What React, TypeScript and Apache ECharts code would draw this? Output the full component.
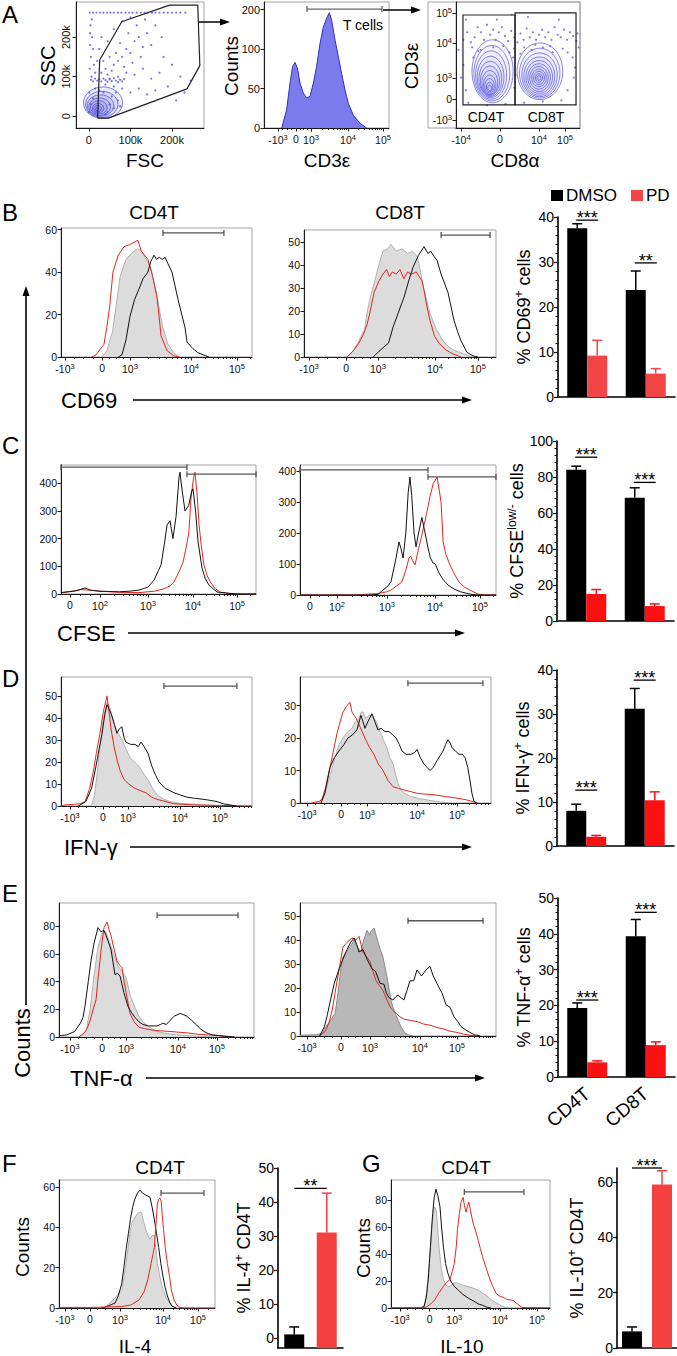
import React, { useEffect, useRef } from "react";
import * as echarts from "echarts";

const FONT = '"Liberation Sans", Arial, Helvetica, sans-serif';
const AX = "#1a1a1a";

// ---------- tick definitions (channel units 0-1000 on logicle display axes) ----------
const logLabels = ["-10{s|3}", "0", "10{s|3}", "10{s|4}", "10{s|5}"];
const cfseLabels = ["0", "10{s|2}", "10{s|3}", "10{s|4}", "10{s|5}"];
const a2Ticks = [112, 256, 376, 672, 952];
const b4Ticks = [21, 215, 361, 681, 921];
const b8Ticks = [26, 219, 385, 682, 906];
const c4Ticks = [46, 200, 446, 677, 903];
const c8Ticks = [51, 189, 444, 689, 918];
const d4Ticks = [47, 220, 351, 623, 832];
const d8Ticks = [37, 215, 351, 613, 822];
const e4Ticks = [56, 221, 344, 610, 810];
const e8Ticks = [36, 209, 357, 612, 801];
const fTicks = [38, 199, 391, 667, 891];
const gTicks = [57, 243, 398, 686, 918];
const a3xTicks = [40, 355, 669, 879];
const a3xLabels = ["-10{s|4}", "0", "10{s|4}", "10{s|5}"];
const a3yTicks = [63, 230, 397, 675, 913];

// ---------- Panel A ----------
const a1Gate = [[21, -5], [26, 142], [79, 239], [194, 281], [262, 281], [267, 128], [236, 69], [47, -5], [21, -5]];
const a1Rings = [[34, 34, 47, 40], [31, 30, 39, 33], [28, 27, 32, 27], [26, 24, 26, 22], [24, 22, 20, 17], [22, 20, 14, 12], [21, 19, 9, 8], [20, 18, 4, 4]];
const a1Points = [
  [2, 262], [10, 262], [18, 262], [27, 262], [35, 262], [44, 262], [52, 262], [60, 262], [70, 262], [78, 262], [88, 262], [97, 262], [105, 262], [115, 262], [125, 262], [134, 262], [142, 262], [152, 262], [160, 262], [170, 262], [180, 262], [190, 262], [200, 262], [210, 262], [220, 262], [232, 262],
  [2, 120], [5, 150], [3, 180], [8, 200], [4, 230], [10, 170], [6, 100], [12, 130], [1, 60], [7, 245], [3, 210],
  [30, 110], [40, 120], [45, 105], [55, 115], [60, 130], [35, 140], [50, 150], [70, 140], [65, 160], [80, 150], [90, 170], [75, 185], [100, 160], [110, 190], [95, 210], [120, 200], [130, 175], [85, 125], [105, 135], [125, 150], [140, 210], [150, 180], [160, 230], [115, 230], [135, 245], [175, 200], [180, 150], [200, 130], [220, 100], [45, 190], [25, 170], [30, 200], [60, 220], [80, 240], [100, 250], [20, 140], [15, 110], [50, 95], [70, 100], [90, 110], [110, 105], [130, 120], [150, 95], [170, 110], [40, 80], [60, 75], [80, 70], [100, 60], [120, 70], [140, 55], [160, 65], [190, 75], [210, 40], [230, 60], [245, 90],
  [5, 92], [10, 88], [15, 95], [20, 90], [25, 93], [30, 88], [35, 95], [40, 91], [45, 87], [50, 93], [55, 89], [60, 96], [65, 90], [70, 86], [75, 92], [80, 88], [85, 94],
  [5, 30], [10, 45], [0, 10], [45, 10], [50, 30], [60, 20], [55, 50], [70, 40], [65, 60], [75, 25], [35, 60], [25, 65], [15, 70], [40, 5],
];
const a2Counts = [[141, 0], [181, 23], [208, 57], [229, 78], [248, 83], [267, 76], [288, 57], [315, 44], [341, 38], [368, 40], [395, 57], [421, 78], [448, 114], [475, 156], [501, 178], [523, 192], [541, 173], [568, 123], [595, 90], [621, 69], [648, 48], [675, 31], [715, 16], [768, 6], [821, 0]];
const a2Gate = [[344, 944, 201]];
const a3Rings = [
  [295, 450, 166, 250], [289, 435, 145, 220], [283, 420, 125, 192], [279, 405, 108, 165], [277, 390, 92, 140], [274, 375, 77, 117], [273, 360, 64, 96], [272, 345, 50, 76], [271, 335, 38, 57], [271, 325, 26, 38], [271, 318, 15, 22],
  [677, 450, 184, 225], [675, 435, 163, 198], [674, 422, 143, 174], [672, 412, 125, 152], [671, 405, 108, 130], [670, 400, 91, 110], [669, 398, 75, 90], [669, 397, 59, 70], [669, 397, 44, 52], [669, 397, 29, 34], [669, 397, 16, 18],
];
const a3Dots = [
  [20, 620], [60, 700], [90, 760], [120, 680], [150, 720], [175, 800], [200, 760], [225, 700], [250, 820], [275, 740], [300, 780], [320, 700], [345, 760], [370, 800], [395, 730], [420, 690], [445, 770], [470, 720], [495, 680], [520, 750], [545, 700], [570, 790], [595, 720], [620, 760], [645, 700], [670, 740], [695, 780], [720, 720], [745, 760], [770, 700], [795, 800], [820, 740], [845, 720], [870, 780], [895, 700], [920, 760], [945, 730], [970, 690],
  [80, 860], [330, 860], [580, 880], [830, 860], [450, 900], [130, 640], [640, 660], [760, 650], [200, 620], [300, 640], [380, 650], [470, 630], [550, 640], [610, 620], [700, 640], [860, 630], [900, 600], [940, 560], [960, 480], [950, 400],
  [60, 500], [40, 400], [80, 300], [100, 200], [460, 560], [480, 420], [470, 320], [900, 300], [250, 180], [400, 190], [550, 200], [700, 210], [850, 220], [140, 560], [180, 610], [430, 600], [520, 590], [780, 600], [990, 640], [980, 750],
];
const a3Gates = [[56, 183, 476, 897], [476, 183, 968, 913]];

// ---------- Panel B histograms (CD69) ----------
const b4Gray = [[215, 0], [240, 3], [270, 12], [290, 25], [310, 38], [340, 46], [370, 49], [400, 51], [420, 50], [440, 47], [470, 42], [500, 30], [530, 15], [560, 6], [590, 2], [620, 0]];
const b4Red = [[160, 0], [183, 1], [225, 6], [240, 14], [255, 24], [272, 40], [300, 48], [330, 52], [360, 53], [403, 55], [420, 50], [455, 46], [480, 38], [503, 28], [524, 10], [555, 3], [592, 0.5], [620, 0]];
const b4Black = [[300, 0], [319, 1], [340, 8], [361, 19], [385, 27], [408, 32], [430, 37], [455, 40], [470, 45], [487, 48], [500, 46], [515, 47], [530, 46], [545, 47], [560, 44], [581, 40], [613, 27], [649, 14], [660, 7], [690, 4], [717, 2], [775, 0]];
const b8Gray = [[225, 0], [250, 2], [280, 6], [297, 9], [315, 12], [328, 19], [345, 26], [365, 32], [390, 40], [411, 46], [435, 47], [453, 49], [480, 46], [510, 47], [540, 45], [565, 46], [589, 44], [605, 38], [615, 33], [635, 26], [656, 19], [690, 12], [724, 7], [760, 4], [781, 3], [830, 1.5], [870, 0]];
const b8Red = [[225, 0], [260, 3], [286, 6], [310, 10], [328, 14], [345, 20], [365, 28], [390, 33], [411, 36], [430, 38], [445, 35], [460, 37], [480, 36], [500, 38], [520, 34], [540, 37], [560, 36], [585, 37], [600, 35], [615, 33], [625, 29], [640, 22], [656, 16], [680, 9], [703, 6], [740, 3], [771, 1.5], [818, 0]];
const b8Black = [[360, 0], [385, 2], [411, 4], [440, 6], [464, 13], [490, 19], [521, 26], [545, 33], [568, 39], [595, 44], [625, 48], [645, 45], [660, 46], [675, 44], [693, 42], [714, 36], [750, 28], [781, 16], [800, 11], [818, 7], [849, 2], [880, 0.5], [906, 0]];

// ---------- Panel C histograms (CFSE) ----------
const c4Red = [[0, 5], [60, 10], [100, 16], [140, 14], [200, 10], [300, 6], [400, 5], [480, 10], [533, 20], [560, 30], [579, 43], [605, 80], [626, 115], [645, 180], [656, 224], [667, 350], [680, 420], [687, 440], [698, 360], [708, 250], [720, 170], [733, 105], [750, 65], [769, 40], [790, 20], [815, 7], [850, 3], [892, 1], [950, 0], [1000, 0]];
const c4Black = [[0, 5], [40, 8], [80, 12], [123, 22], [150, 14], [200, 10], [250, 9], [300, 8], [350, 10], [400, 14], [446, 25], [477, 50], [500, 85], [513, 105], [530, 180], [544, 250], [559, 265], [574, 200], [590, 280], [605, 420], [610, 440], [620, 380], [636, 300], [655, 320], [670, 370], [677, 380], [690, 300], [703, 188], [723, 94], [740, 55], [759, 32], [800, 7], [867, 2], [900, 0], [1000, 0]];
const c8Red = [[0, 0], [280, 0], [330, 2], [400, 5], [440, 10], [464, 16], [490, 28], [520, 42], [540, 80], [556, 119], [565, 125], [575, 110], [587, 97], [605, 150], [622, 194], [645, 260], [663, 316], [680, 360], [699, 380], [710, 340], [720, 297], [730, 171], [745, 130], [765, 97], [790, 65], [811, 42], [840, 25], [867, 16], [908, 3], [940, 0], [1000, 0]];
const c8Black = [[0, 0], [350, 0], [398, 2], [423, 16], [450, 30], [464, 42], [490, 119], [505, 171], [515, 150], [526, 119], [540, 200], [552, 330], [561, 380], [570, 320], [582, 200], [592, 155], [605, 200], [622, 250], [635, 210], [653, 152], [665, 120], [679, 103], [690, 100], [709, 71], [730, 50], [755, 32], [790, 18], [821, 10], [860, 4], [888, 1], [920, 0], [1000, 0]];

// ---------- Panel D histograms (IFN-γ) ----------
const d4Gray = [[160, 0], [175, 5], [190, 15], [205, 28], [222, 40], [241, 47], [255, 45], [270, 40], [283, 36], [300, 33], [319, 30], [340, 26], [361, 22], [385, 20], [408, 18], [430, 15], [455, 12], [480, 8], [503, 5], [540, 3], [571, 2], [620, 1.2], [660, 1], [750, 0.5], [850, 0]];
const d4Red = [[0, 0], [21, 0.5], [100, 1], [126, 2], [150, 8], [168, 15], [185, 24], [204, 33], [222, 43], [241, 50], [250, 44], [262, 35], [278, 27], [293, 21], [310, 16], [330, 12], [355, 10], [387, 8], [415, 7], [445, 6], [475, 4], [503, 3], [550, 2], [592, 1], [700, 0.5], [800, 0.3], [1000, 0]];
const d4Black = [[90, 0], [130, 2], [160, 8], [183, 18], [200, 26], [215, 33], [230, 42], [241, 46], [262, 42], [280, 37], [293, 33], [305, 35], [319, 36], [330, 31], [340, 29], [365, 28], [387, 28], [405, 27], [419, 29], [435, 27], [455, 24], [476, 18], [495, 14], [513, 11], [545, 8], [570, 7], [592, 6], [625, 5], [660, 4], [700, 3.5], [749, 3], [785, 2.5], [817, 2], [850, 1], [885, 0.5], [920, 0]];
const d8Gray = [[100, 0], [130, 3], [160, 9], [183, 14], [205, 18], [225, 20], [250, 22], [272, 23], [290, 25], [309, 26], [320, 28], [330, 28], [345, 26], [360, 27], [377, 27], [400, 25], [419, 22], [440, 19], [455, 17], [470, 14], [487, 12], [500, 9], [513, 6], [530, 4], [545, 3], [580, 2], [613, 1.5], [660, 1], [710, 0.5], [780, 0]];
const d8Red = [[60, 0], [100, 0.5], [115, 1], [135, 5], [157, 11], [175, 16], [194, 21.5], [210, 25], [225, 28], [245, 30], [262, 31], [272, 28], [283, 27], [295, 26], [310, 24], [325, 22], [340, 20], [365, 17], [387, 15], [410, 12], [435, 10], [460, 7], [487, 5], [515, 4.5], [545, 4], [580, 3.5], [613, 3], [660, 2.7], [707, 2.5], [760, 2], [822, 1.5], [870, 1], [901, 0.5], [930, 0]];
const d8Black = [[110, 0], [130, 3], [157, 11], [180, 14], [204, 16], [230, 18], [251, 20], [275, 21], [298, 22.5], [319, 27], [330, 25], [340, 23], [355, 25], [377, 27.5], [392, 25], [408, 22.5], [425, 23], [445, 22], [466, 22], [485, 21], [503, 20], [520, 18], [534, 16], [555, 15], [581, 15], [600, 15.5], [613, 16.5], [630, 14], [649, 12], [665, 11], [681, 10], [698, 11], [717, 13], [733, 14.5], [749, 16], [762, 18], [775, 19.5], [786, 18.5], [796, 17], [814, 16], [832, 15], [850, 15], [864, 14], [878, 11], [890, 7], [900, 3], [911, 0.5], [925, 0]];

// ---------- Panel E histograms (TNF-α) ----------
const e4Gray = [[110, 0], [140, 5], [160, 20], [180, 45], [200, 65], [221, 75], [240, 76], [260, 68], [280, 60], [300, 52], [320, 48], [344, 43], [365, 30], [390, 21], [410, 15], [431, 11], [455, 8], [477, 6], [505, 4], [533, 3], [600, 1.5], [660, 1], [720, 0.5], [800, 0]];
const e4Red = [[100, 0], [130, 3], [144, 6], [160, 12], [175, 20], [190, 27], [200, 42], [210, 55], [220, 68], [231, 79], [246, 83], [256, 78], [267, 73], [280, 65], [297, 55], [310, 52], [323, 50], [333, 41], [344, 32], [355, 24], [364, 17], [385, 11], [410, 7], [440, 6], [477, 5], [520, 4.5], [569, 4], [610, 3.5], [656, 3], [710, 2], [769, 1.5], [820, 1], [856, 0.5], [900, 0]];
const e4Black = [[0, 1], [40, 1.5], [80, 4], [110, 10], [123, 14], [133, 22], [150, 40], [164, 55], [180, 68], [200, 79], [215, 76], [231, 77], [250, 70], [267, 63], [287, 45], [300, 46], [313, 44], [333, 32], [354, 22], [370, 18], [390, 14], [410, 11], [431, 9], [460, 8], [490, 8], [503, 8], [520, 9], [533, 10], [550, 9], [570, 12], [590, 15], [605, 16], [621, 17], [640, 16], [656, 15], [680, 12], [703, 9], [725, 6], [744, 4], [765, 2.5], [790, 1.5], [820, 1], [856, 0.5], [900, 0]];
const e8Gray = [[0, 0.3], [80, 0.5], [110, 1], [133, 4], [160, 7], [179, 9.5], [189, 15], [200, 22], [210, 29], [219, 33], [245, 36], [262, 38], [276, 40], [293, 37], [311, 35], [325, 40], [342, 44], [355, 42], [365, 44], [378, 45], [395, 40], [410, 36], [423, 33], [444, 24.5], [464, 15], [474, 12], [487, 9], [500, 6.7], [515, 4], [531, 1.7], [550, 0.5], [580, 0]];
const e8Red = [[100, 0], [130, 2], [150, 6], [165, 11], [179, 18], [199, 27.5], [219, 37], [240, 39], [265, 40.8], [285, 40], [301, 41.5], [321, 35], [340, 33], [357, 31], [372, 27], [388, 23], [405, 21], [423, 19], [444, 15], [464, 11.5], [490, 9.5], [510, 8], [531, 7], [565, 6.5], [597, 6], [630, 5], [663, 4.5], [700, 3.5], [730, 3], [765, 2], [801, 1.5], [835, 0.8], [867, 0.3], [900, 0]];
const e8Black = [[100, 0], [125, 4], [140, 9], [153, 14], [175, 22], [200, 28], [219, 32], [240, 36], [258, 39], [276, 40.8], [290, 38], [301, 35], [321, 36], [342, 32], [367, 28], [385, 27], [408, 22], [429, 21.5], [440, 18], [454, 16], [474, 15], [490, 16.5], [500, 17], [515, 16], [530, 15], [546, 19], [561, 23], [580, 23], [597, 27.5], [620, 25], [643, 27.5], [663, 29], [680, 25], [704, 21], [724, 18], [745, 13], [765, 12], [786, 8], [805, 6], [821, 4], [845, 2.5], [867, 1.5], [890, 0.5], [920, 0]];

// ---------- Panels F, G histograms ----------
const fGray = [[290, 0], [319, 2], [360, 5], [402, 9], [416, 15], [430, 22], [445, 31], [458, 39], [472, 43], [486, 45], [505, 47], [528, 47.6], [542, 43], [556, 39], [570, 36], [583, 34], [597, 36], [611, 36], [620, 30], [631, 22], [648, 15], [667, 9], [688, 5], [709, 2.5], [737, 0.5], [760, 0]];
const fRed = [[0, 0.3], [200, 0.3], [300, 0.5], [400, 0.7], [460, 1.5], [513, 4], [545, 8], [569, 14], [590, 22], [611, 30], [622, 42], [631, 52], [640, 54], [647, 54.6], [655, 53], [662, 46], [670, 39], [681, 30], [695, 22], [709, 15.5], [720, 9], [737, 4], [755, 1.5], [776, 0.3], [800, 0], [1000, 0]];
const fBlack = [[270, 0], [291, 0.3], [330, 1.5], [360, 2.5], [380, 6], [402, 12], [416, 20], [430, 29], [445, 37], [458, 44], [472, 50], [486, 54], [503, 57], [519, 58.5], [535, 57], [556, 56], [570, 55.5], [583, 55], [597, 50], [611, 44], [625, 37], [639, 30], [653, 22], [667, 15.5], [681, 10], [695, 6], [709, 3], [723, 1], [751, 0]];
const gGray = [[185, 0], [210, 2], [225, 12], [238, 30], [252, 52], [265, 68], [275, 75], [285, 72], [295, 58], [302, 45], [315, 30], [330, 21], [345, 17], [358, 16], [371, 16], [390, 18], [412, 19], [430, 18], [450, 17], [480, 16], [510, 15], [551, 13], [575, 11], [604, 9], [630, 6], [660, 4], [690, 2], [715, 0.5], [740, 0]];
const gRed = [[0, 0.3], [150, 0.3], [220, 0.5], [250, 3], [275, 6], [300, 11], [330, 16], [350, 19], [371, 21], [385, 27], [398, 33], [410, 45], [418, 58], [430, 70], [440, 78], [453, 82], [462, 76], [472, 71], [480, 75], [489, 78.5], [500, 72], [516, 63], [532, 57], [549, 50], [562, 44], [576, 38], [597, 30], [617, 23], [640, 16], [660, 11], [686, 8.5], [705, 8], [727, 6.5], [750, 6], [768, 5.5], [795, 3], [823, 0.5], [850, 0.3], [1000, 0.2]];
const gBlack = [[180, 0], [208, 1], [222, 8], [234, 21], [241, 33], [248, 45], [255, 58], [262, 70], [272, 82], [283, 88], [295, 83], [308, 75], [318, 60], [330, 45], [343, 33], [357, 26], [375, 20], [398, 16], [425, 13], [453, 10], [490, 7], [522, 5], [550, 3], [576, 2], [605, 0.5], [630, 0]];

// ---------- bar chart data ----------
const barCats = ["CD4T", "CD8T"];
const cd69Dmso = [37.5, 23.8], cd69DmsoErr = [38.5, 28.0], cd69Pd = [9.2, 5.2], cd69PdErr = [12.6, 6.3];
const cfseDmso = [84, 68.5], cfseDmsoErr = [86, 74], cfsePd = [15, 8.3], cfsePdErr = [17.5, 9.5];
const ifnDmso = [8.0, 31.2], ifnDmsoErr = [9.5, 35.8], ifnPd = [2.1, 10.4], ifnPdErr = [2.4, 12.3];
const tnfDmso = [19.3, 39.3], tnfDmsoErr = [20.7, 44], tnfPd = [4.1, 8.9], tnfPdErr = [4.5, 9.8];
const il4Cats = ["DMSO", "PD"], il4Vals = [1.0, 31], il4Err = [3.2, 42.6];
const il10Vals = [6.0, 59], il10Err = [7.6, 64];
const cd69Sig = [[0, 39.3], [1, 29.8]], cd69SigLbl = ["***", "**"];
const cfseSig = [[0, 91], [1, 77]], cfseSigLbl = ["***", "***"];
const ifnSig = [[0, 12.7], [1, 37.7]], ifnSigLbl = ["***", "***"];
const tnfSig = [[0, 21.5], [1, 46]], tnfSigLbl = ["***", "***"];

const SUP = { s: { fontSize: 7.5, fontFamily: FONT, color: "#111", padding: [0, 0, 5, 0] } };
const NAME_SUP = { s: { fontSize: 12, fontFamily: FONT, color: "#000", padding: [0, 0, 9, 0] } };

function buildOption() {
  const grid: any[] = [], xAxis: any[] = [], yAxis: any[] = [], series: any[] = [], graphic: any[] = [];

  const lblFn = (vals: number[], labels: string[]) => {
    const m = new Map<number, string>();
    vals.forEach((v, i) => m.set(v, labels[i]));
    return (v: number) => (m.has(v) ? (m.get(v) as string) : "");
  };
  const lg = [2, 3, 4, 5, 6, 7, 8, 9].map((k) => Math.log10(k));
  const minorTicks = (t: number[], kind: string) => {
    const out: number[] = [];
    if (kind === "log") {
      for (let k = 1; k < 4; k++) out.push(t[0] + ((t[1] - t[0]) * k) / 4);
      for (let k = 1; k < 4; k++) out.push(t[1] + ((t[2] - t[1]) * k) / 4);
    } else if (kind === "cfse") {
      for (let k = 1; k < 3; k++) out.push(t[0] + ((t[1] - t[0]) * k) / 3);
      lg.forEach((l) => out.push(t[1] + (t[2] - t[1]) * l));
    }
    lg.forEach((l) => {
      out.push(t[2] + (t[3] - t[2]) * l);
      out.push(t[3] + (t[4] - t[3]) * l);
      const v = t[4] + (t[4] - t[3]) * l;
      if (v < 995) out.push(v);
    });
    return out;
  };

  const gateSeries = (xi: number, yi: number, data: number[][], color = "#555") => ({
    type: "custom", xAxisIndex: xi, yAxisIndex: yi, data, clip: false, z: 6, silent: true,
    renderItem: (_p: any, api: any) => {
      const a = api.coord([api.value(0), api.value(2)]);
      const b = api.coord([api.value(1), api.value(2)]);
      const st = { stroke: color, lineWidth: 1.3 };
      return {
        type: "group", children: [
          { type: "line", shape: { x1: a[0], y1: a[1], x2: b[0], y2: b[1] }, style: st },
          { type: "line", shape: { x1: a[0], y1: a[1] - 3, x2: a[0], y2: a[1] + 3 }, style: st },
          { type: "line", shape: { x1: b[0], y1: b[1] - 3, x2: b[0], y2: b[1] + 3 }, style: st },
        ],
      };
    },
  });

  const curveStyle: any = {
    gray: { line: "#b0b0b0", area: "#dcdcdc" },
    grayDark: { line: "#8a8a8a", area: "#b8b8b8" },
    red: { line: "#e8241e" },
    black: { line: "#111111" },
  };

  const tickLabel = (ticks: number[], labels: string[], margin = 5) => ({
    show: true, customValues: ticks, formatter: lblFn(ticks, labels), fontSize: 10.5, color: "#111", fontFamily: FONT, margin, rich: SUP,
  });

  const addHist = (box: number[], yMax: number, yVals: number[], xTicks: number[], xLabels: string[], kind: string, curves: any[], gates: number[][]) => {
    const gi = grid.length;
    grid.push({ left: box[0], top: box[1], width: box[2], height: box[3], show: true, borderColor: "#a3a3a3", borderWidth: 1 });
    const xi = xAxis.length;
    xAxis.push({
      gridIndex: gi, type: "value", min: 0, max: 1000, position: "bottom",
      axisLine: { show: true, onZero: false, lineStyle: { color: AX, width: 1 } },
      axisTick: { show: true, customValues: xTicks, length: 3.5, lineStyle: { color: AX } },
      axisLabel: tickLabel(xTicks, xLabels),
      splitLine: { show: false },
    });
    xAxis.push({
      gridIndex: gi, type: "value", min: 0, max: 1000, position: "bottom",
      axisLine: { show: false }, axisTick: { show: true, customValues: minorTicks(xTicks, kind), length: 2, lineStyle: { color: AX } },
      axisLabel: { show: false }, splitLine: { show: false },
    });
    const yi = yAxis.length;
    yAxis.push({
      gridIndex: gi, type: "value", min: 0, max: yMax, position: "left",
      axisLine: { show: true, onZero: false, lineStyle: { color: AX, width: 1 } },
      axisTick: { show: true, customValues: yVals, length: 3.5, lineStyle: { color: AX } },
      axisLabel: { customValues: yVals, fontSize: 10.5, color: "#111", fontFamily: FONT, margin: 4 },
      splitLine: { show: false },
    });
    curves.forEach((c: any, k: number) => {
      const s = curveStyle[c.kind];
      series.push({
        type: "line", xAxisIndex: xi, yAxisIndex: yi, data: c.data, symbol: "none", showSymbol: false, silent: true,
        lineStyle: { color: s.line, width: 1 }, areaStyle: s.area ? { color: s.area, opacity: 1 } : undefined, z: 2 + k,
      });
    });
    series.push(gateSeries(xi, yi, gates));
    return { xi, yi };
  };

  // error bars & significance helpers
  const errSeries = (xi: number, yi: number, data: number[][], colors: string[], off: number) => ({
    type: "custom", xAxisIndex: xi, yAxisIndex: yi, data, clip: false, z: 6, silent: true,
    renderItem: (_p: any, api: any) => {
      const side = api.value(3);
      const a = api.coord([api.value(0), api.value(1)]);
      const b = api.coord([api.value(0), api.value(2)]);
      const x = a[0] + (side === 0 ? -off : off);
      const st = { stroke: colors[side], lineWidth: 1.5 };
      return {
        type: "group", children: [
          { type: "line", shape: { x1: x, y1: a[1], x2: x, y2: b[1] }, style: st },
          { type: "line", shape: { x1: x - 5, y1: b[1], x2: x + 5, y2: b[1] }, style: st },
        ],
      };
    },
  });
  const sigSeries = (xi: number, yi: number, data: number[][], labels: string[]) => ({
    type: "custom", xAxisIndex: xi, yAxisIndex: yi, data, clip: false, z: 6, silent: true,
    renderItem: (p: any, api: any) => {
      const c0 = api.value(0), c1 = api.value(1), y = api.value(2);
      const a = api.coord([c0, y]);
      const b = api.coord([c1, y]);
      const x1 = c0 === c1 ? a[0] - 11 : a[0];
      const x2 = c0 === c1 ? a[0] + 11 : b[0];
      return {
        type: "group", children: [
          { type: "line", shape: { x1, y1: a[1], x2, y2: a[1] }, style: { stroke: "#000", lineWidth: 1.3 } },
          { type: "text", x: (x1 + x2) / 2, y: a[1] + 7, style: { text: labels[p.dataIndex], textAlign: "center", textVerticalAlign: "bottom", font: `18px ${FONT}`, fill: "#000" } },
        ],
      };
    },
  });

  const barYAxis = (gi: number, min: number, max: number, interval: number, name: string, nameGap: number, custom?: number[]) => ({
    gridIndex: gi, type: "value", min, max, interval: custom ? undefined : interval,
    axisLine: { show: true, onZero: false, lineStyle: { color: "#000", width: 1.6 } },
    axisTick: { show: true, length: 4, lineStyle: { color: "#000", width: 1.2 }, ...(custom ? { customValues: custom } : {}) },
    minorTick: { show: !custom, splitNumber: 5, length: 2.5, lineStyle: { color: "#000", width: 1 } },
    axisLabel: { fontSize: 14, color: "#000", fontFamily: FONT, margin: 4, ...(custom ? { customValues: custom } : {}) },
    splitLine: { show: false }, minorSplitLine: { show: false },
    name, nameLocation: "middle", nameGap, nameRotate: 90,
    nameTextStyle: { fontSize: 18, color: "#000", fontFamily: FONT, rich: NAME_SUP },
  });

  const addBars = (box: number[], max: number, interval: number, dm: number[], dmErr: number[], pd: number[], pdErr: number[], sig: number[][], sigLbl: string[], name: string, red: string, showCats: boolean) => {
    const gi = grid.length;
    grid.push({ left: box[0], top: box[1], width: box[2], height: box[3] });
    const xi = xAxis.length;
    xAxis.push({
      gridIndex: gi, type: "category", data: barCats, boundaryGap: true,
      axisLine: { show: true, lineStyle: { color: "#000", width: 1.6 } }, axisTick: { show: false },
      axisLabel: { show: showCats, rotate: 40, fontSize: 19, color: "#000", fontFamily: FONT, margin: 14, interval: 0 },
    });
    const yi = yAxis.length;
    yAxis.push(barYAxis(gi, 0, max, interval, name, 24));
    series.push({ type: "bar", name: "DMSO", xAxisIndex: xi, yAxisIndex: yi, data: dm, barWidth: 20, barGap: "0%", itemStyle: { color: "#000" }, z: 3 });
    series.push({ type: "bar", name: "PD", xAxisIndex: xi, yAxisIndex: yi, data: pd, barWidth: 20, barGap: "0%", itemStyle: { color: red }, z: 3 });
    const errData: number[][] = [];
    dm.forEach((v, i) => errData.push([i, v, dmErr[i], 0]));
    pd.forEach((v, i) => errData.push([i, v, pdErr[i], 1]));
    series.push(errSeries(xi, yi, errData, ["#000", red], 10));
    series.push(sigSeries(xi, yi, sig.map((s) => [s[0], s[0], s[1]]), sigLbl));
  };

  // ===== Panel A1: scatter FSC / SSC =====
  {
    const gi = grid.length;
    grid.push({ left: 76, top: 2, width: 128, height: 126, show: true, borderColor: "#a3a3a3", borderWidth: 1 });
    const xi = xAxis.length;
    xAxis.push({
      gridIndex: gi, type: "value", min: -31, max: 277,
      axisLine: { show: true, onZero: false, lineStyle: { color: AX } },
      axisTick: { customValues: [0, 100, 200], length: 3.5, lineStyle: { color: AX } },
      axisLabel: { customValues: [0, 100, 200], formatter: (v: number) => (v === 0 ? "0" : v + "k"), fontSize: 11, color: "#111", fontFamily: FONT, margin: 6 },
      splitLine: { show: false },
    });
    const yi = yAxis.length;
    yAxis.push({
      gridIndex: gi, type: "value", min: -30, max: 289,
      axisLine: { show: true, onZero: false, lineStyle: { color: AX } },
      axisTick: { customValues: [0, 100, 200], length: 3.5, lineStyle: { color: AX } },
      axisLabel: { customValues: [0, 100, 200], formatter: (v: number) => (v === 0 ? "0" : v + "k"), fontSize: 11, color: "#111", fontFamily: FONT, margin: 5, rotate: 90 },
      splitLine: { show: false },
    });
    series.push({
      type: "custom", xAxisIndex: xi, yAxisIndex: yi, data: a1Rings, silent: true, z: 2,
      renderItem: (_p: any, api: any) => {
        const c = api.coord([api.value(0), api.value(1)]);
        const s = api.size([api.value(2), api.value(3)]);
        return { type: "ellipse", shape: { cx: c[0], cy: c[1], rx: s[0], ry: s[1] }, style: { fill: "rgba(70,70,215,0.10)", stroke: "#4545d6", lineWidth: 0.7 } };
      },
    });
    series.push({ type: "scatter", xAxisIndex: xi, yAxisIndex: yi, data: a1Points, symbolSize: 2.2, itemStyle: { color: "#4a4ae0", opacity: 0.75 }, silent: true, z: 3 });
    series.push({ type: "line", xAxisIndex: xi, yAxisIndex: yi, data: a1Gate, symbol: "none", lineStyle: { color: "#222", width: 1.2 }, silent: true, z: 4 });
  }

  // ===== Panel A2: CD3 histogram =====
  {
    const gi = grid.length;
    grid.push({ left: 264, top: 2, width: 125, height: 126, show: true, borderColor: "#a3a3a3", borderWidth: 1 });
    const xi = xAxis.length;
    xAxis.push({
      gridIndex: gi, type: "value", min: 0, max: 1000,
      axisLine: { show: true, onZero: false, lineStyle: { color: AX } },
      axisTick: { customValues: a2Ticks, length: 3.5, lineStyle: { color: AX } },
      axisLabel: tickLabel(a2Ticks, logLabels),
      splitLine: { show: false },
    });
    xAxis.push({
      gridIndex: gi, type: "value", min: 0, max: 1000, position: "bottom",
      axisLine: { show: false }, axisTick: { show: true, customValues: minorTicks(a2Ticks, "log"), length: 2, lineStyle: { color: AX } },
      axisLabel: { show: false }, splitLine: { show: false },
    });
    const yi = yAxis.length;
    // y axis is a display scale: 0,50,100 equally spaced, then 100→200 over the same step
    const toDisp = (c: number) => (c <= 100 ? c / 50 : 2 + (c - 100) / 100);
    yAxis.push({
      gridIndex: gi, type: "value", min: 0, max: 3.19,
      axisLine: { show: true, onZero: false, lineStyle: { color: AX } },
      axisTick: { customValues: [0, 1, 2, 3], length: 3.5, lineStyle: { color: AX } },
      axisLabel: { customValues: [0, 1, 2, 3], formatter: lblFn([0, 1, 2, 3], ["0", "50", "100", "200"]), fontSize: 11, color: "#111", fontFamily: FONT, margin: 4 },
      splitLine: { show: false },
    });
    series.push({
      type: "line", xAxisIndex: xi, yAxisIndex: yi, data: a2Counts.map((d) => [d[0], toDisp(d[1])]), symbol: "none", silent: true,
      lineStyle: { color: "#3030c0", width: 1 }, areaStyle: { color: "#7b7bee", opacity: 1 }, z: 2,
    });
    series.push(gateSeries(xi, yi, a2Gate.map((g) => [g[0], g[1], toDisp(g[2])]), "#666"));
  }

  // ===== Panel A3: CD8 / CD3 contour =====
  {
    const gi = grid.length;
    grid.push({ left: 456, top: 2, width: 124, height: 126, show: true, borderColor: "#a3a3a3", borderWidth: 1 });
    const xi = xAxis.length;
    xAxis.push({
      gridIndex: gi, type: "value", min: 0, max: 1000,
      axisLine: { show: true, onZero: false, lineStyle: { color: AX } },
      axisTick: { customValues: a3xTicks, length: 3.5, lineStyle: { color: AX } },
      axisLabel: tickLabel(a3xTicks, a3xLabels),
      splitLine: { show: false },
    });
    const yi = yAxis.length;
    yAxis.push({
      gridIndex: gi, type: "value", min: 0, max: 1000,
      axisLine: { show: true, onZero: false, lineStyle: { color: AX } },
      axisTick: { customValues: a3yTicks, length: 3.5, lineStyle: { color: AX } },
      axisLabel: { ...tickLabel(a3yTicks, logLabels, 4) },
      splitLine: { show: false },
    });
    series.push({ type: "scatter", xAxisIndex: xi, yAxisIndex: yi, data: a3Dots, symbolSize: 2.2, itemStyle: { color: "#4a4ae0", opacity: 0.7 }, silent: true, z: 2 });
    series.push({
      type: "custom", xAxisIndex: xi, yAxisIndex: yi, data: a3Rings, silent: true, z: 3,
      renderItem: (_p: any, api: any) => {
        const c = api.coord([api.value(0), api.value(1)]);
        const s = api.size([api.value(2), api.value(3)]);
        return { type: "ellipse", shape: { cx: c[0], cy: c[1], rx: s[0], ry: s[1] }, style: { fill: "rgba(90,90,225,0.04)", stroke: "#5050dc", lineWidth: 0.7 } };
      },
    });
    series.push({
      type: "custom", xAxisIndex: xi, yAxisIndex: yi, data: a3Gates, silent: true, z: 4,
      renderItem: (_p: any, api: any) => {
        const a = api.coord([api.value(0), api.value(1)]);
        const b = api.coord([api.value(2), api.value(3)]);
        return { type: "rect", shape: { x: a[0], y: b[1], width: b[0] - a[0], height: a[1] - b[1] }, style: { fill: "none", stroke: "#222", lineWidth: 1.2 } };
      },
    });
  }

  // ===== B =====
  addHist([61, 228, 191, 129], 60.8, [0, 20, 40, 60], b4Ticks, logLabels, "log",
    [{ data: b4Gray, kind: "gray" }, { data: b4Red, kind: "red" }, { data: b4Black, kind: "black" }], [[534, 853, 58.5]]);
  addHist([304, 230, 192, 127], 55.2, [0, 10, 20, 30, 40, 50], b8Ticks, logLabels, "log",
    [{ data: b8Gray, kind: "gray" }, { data: b8Red, kind: "red" }, { data: b8Black, kind: "black" }], [[714, 969, 53]]);
  addBars([558, 217, 117, 180], 40, 10, cd69Dmso, cd69DmsoErr, cd69Pd, cd69PdErr, cd69Sig, cd69SigLbl, "% CD69{s|+} cells", "#f24545", false);

  // ===== C =====
  addHist([61, 465, 195, 129], 466, [0, 100, 200, 300, 400], c4Ticks, cfseLabels, "cfse",
    [{ data: c4Red, kind: "red" }, { data: c4Black, kind: "black" }], [[0, 646, 458], [646, 1000, 433]]);
  addHist([300, 465, 196, 130], 419, [0, 100, 200, 300, 400], c8Ticks, cfseLabels, "cfse",
    [{ data: c8Red, kind: "red" }, { data: c8Black, kind: "black" }], [[0, 653, 403], [653, 1000, 381]]);
  addBars([557, 441, 117, 180], 100, 20, cfseDmso, cfseDmsoErr, cfsePd, cfsePdErr, cfseSig, cfseSigLbl, "% CFSE{s|low/-} cells", "#fa1212", false);

  // ===== D =====
  addHist([61, 677, 191, 129], 58.6, [0, 10, 20, 30, 40, 50], d4Ticks, logLabels, "log",
    [{ data: d4Gray, kind: "gray" }, { data: d4Red, kind: "red" }, { data: d4Black, kind: "black" }], [[539, 921, 54.5]]);
  addHist([300, 677, 191, 126], 38.8, [0, 10, 20, 30], d8Ticks, logLabels, "log",
    [{ data: d8Gray, kind: "gray" }, { data: d8Red, kind: "red" }, { data: d8Black, kind: "black" }], [[565, 958, 36.9]]);
  addBars([557, 670, 117, 176], 40, 10, ifnDmso, ifnDmsoErr, ifnPd, ifnPdErr, ifnSig, ifnSigLbl, "% IFN-γ{s|+} cells", "#fa1212", false);

  // ===== E =====
  addHist([59, 903, 195, 134], 96.8, [0, 20, 40, 60, 80], e4Ticks, logLabels, "log",
    [{ data: e4Gray, kind: "gray" }, { data: e4Red, kind: "red" }, { data: e4Black, kind: "black" }], [[503, 918, 88]]);
  addHist([300, 903, 196, 133], 55.4, [0, 10, 20, 30, 40, 50], e8Ticks, logLabels, "log",
    [{ data: e8Gray, kind: "grayDark" }, { data: e8Red, kind: "red" }, { data: e8Black, kind: "black" }], [[551, 934, 48]]);
  addBars([558, 898, 117, 179], 50, 10, tnfDmso, tnfDmsoErr, tnfPd, tnfPdErr, tnfSig, tnfSigLbl, "% TNF-α{s|+} cells", "#fa1212", true);

  // ===== F =====
  addHist([59, 1180, 156, 128], 63.5, [0, 20, 40, 60], fTicks, logLabels, "log",
    [{ data: fGray, kind: "gray" }, { data: fBlack, kind: "black" }, { data: fRed, kind: "red" }], [[654, 929, 57]]);
  {
    const gi = grid.length;
    grid.push({ left: 278, top: 1168, width: 65, height: 180 });
    const xi = xAxis.length;
    xAxis.push({ gridIndex: gi, type: "category", data: il4Cats, axisLine: { show: true, onZero: false, lineStyle: { color: "#000", width: 1.6 } }, axisTick: { show: false }, axisLabel: { show: false } });
    const yi = yAxis.length;
    yAxis.push(barYAxis(gi, -3, 50, 10, "% IL-4{s|+} CD4T", 24, [0, 10, 20, 30, 40, 50]));
    const colors = ["#000", "#f54040"];
    series.push({
      type: "custom", xAxisIndex: xi, yAxisIndex: yi, data: il4Vals.map((v, i) => [i, v, il4Err[i]]), clip: false, silent: true, z: 3,
      renderItem: (p: any, api: any) => {
        const i = api.value(0);
        const base = api.coord([i, -3]);
        const top = api.coord([i, api.value(1)]);
        const err = api.coord([i, api.value(2)]);
        const col = colors[p.dataIndex];
        const st = { stroke: col, lineWidth: 1.5 };
        return {
          type: "group", children: [
            { type: "rect", shape: { x: base[0] - 10, y: top[1], width: 20, height: base[1] - top[1] }, style: { fill: col } },
            { type: "line", shape: { x1: top[0], y1: top[1], x2: top[0], y2: err[1] }, style: st },
            { type: "line", shape: { x1: top[0] - 5, y1: err[1], x2: top[0] + 5, y2: err[1] }, style: st },
          ],
        };
      },
    });
    series.push(sigSeries(xi, yi, [[0, 1, 44]], ["**"]));
  }

  // ===== G =====
  addHist([391, 1180, 159, 128], 94.8, [0, 20, 40, 60, 80], gTicks, logLabels, "log",
    [{ data: gGray, kind: "gray" }, { data: gBlack, kind: "black" }, { data: gRed, kind: "red" }], [[461, 836, 86]]);
  {
    const gi = grid.length;
    grid.push({ left: 617, top: 1168, width: 60, height: 180 });
    const xi = xAxis.length;
    xAxis.push({ gridIndex: gi, type: "category", data: il4Cats, axisLine: { show: true, lineStyle: { color: "#000", width: 1.6 } }, axisTick: { show: false }, axisLabel: { show: false } });
    const yi = yAxis.length;
    yAxis.push(barYAxis(gi, 0, 65, 20, "% IL-10{s|+} CD4T", 30, [0, 20, 40, 60]));
    series.push({
      type: "bar", name: "IL-10", xAxisIndex: xi, yAxisIndex: yi, barWidth: 20, z: 3,
      data: il10Vals.map((v, i) => ({ value: v, itemStyle: { color: i === 0 ? "#000" : "#f54040" } })),
    });
    series.push(errSeries(xi, yi, il10Vals.map((v, i) => [i, v, il10Err[i], i]), ["#000", "#f54040"], 0));
    series.push(sigSeries(xi, yi, [[0, 1, 65]], ["***"]));
  }

  // ===== annotations =====
  const T = (text: string, x: number, y: number, size: number, align = "center", rot = 0) => ({
    type: "text", x, y, rotation: rot, silent: true,
    style: { text, font: `${size}px ${FONT}`, fill: "#000", textAlign: align, textVerticalAlign: "middle" },
  });
  const hArrow = (x1: number, x2: number, y: number, w = 1.6) => [
    { type: "line", silent: true, shape: { x1, y1: y, x2: x2 - 6, y2: y }, style: { stroke: "#000", lineWidth: w } },
    { type: "polygon", silent: true, shape: { points: [[x2, y], [x2 - 10, y - 3.5], [x2 - 10, y + 3.5]] }, style: { fill: "#000" } },
  ];
  const R = Math.PI / 2;
  graphic.push(
    { type: "rect", silent: true, shape: { x: 428, y: 2, width: 152, height: 126 }, style: { fill: "none", stroke: "#a3a3a3", lineWidth: 1 } },
    T("A", 2, 14, 24, "left"), T("SSC", 48, 66, 20, "center", R), T("FSC", 145, 160, 19), T("Counts", 231, 66, 19, "center", R),
    T("CD3ε", 327, 160, 19), T("CD3ε", 411, 66, 19, "center", R), T("CD8α", 515, 160, 19),
    T("T cells", 363, 25, 14), T("CD4T", 486, 117, 14), T("CD8T", 546, 117, 14),
    T("B", 2, 212, 24, "left"), T("CD4T", 154, 212, 19), T("CD8T", 400, 212, 19),
    T("CD69", 61, 400, 22, "left"),
    T("C", 2, 445, 24, "left"), T("CFSE", 57, 633, 22, "left"),
    T("D", 2, 678, 24, "left"), T("IFN-γ", 64, 847, 22, "left"),
    T("E", 2, 893, 24, "left"), T("TNF-α", 70, 1078, 22, "left"),
    T("Counts", 22, 1043, 22, "center", R),
    T("F", 2, 1163, 24, "left"), T("CD4T", 160, 1167, 19), T("Counts", 22, 1247, 19, "center", R), T("IL-4", 135, 1346, 19),
    T("G", 362, 1163, 24, "left"), T("CD4T", 466, 1167, 19), T("Counts", 363, 1248, 19, "center", R), T("IL-10", 462, 1346, 19),
    ...hArrow(198, 230, 22, 1.5), ...hArrow(383, 421, 10, 1.5),
    ...hArrow(133, 472, 400), ...hArrow(128, 465, 633), ...hArrow(130, 472, 847), ...hArrow(146, 485, 1078),
    { type: "line", silent: true, shape: { x1: 26, y1: 1005, x2: 26, y2: 293 }, style: { stroke: "#000", lineWidth: 1.6 } },
    { type: "polygon", silent: true, shape: { points: [[26, 286], [22.5, 296], [29.5, 296]] }, style: { fill: "#000" } },
  );

  return {
    animation: false,
    backgroundColor: "#fff",
    textStyle: { fontFamily: FONT },
    legend: {
      data: [{ name: "DMSO", icon: "rect" }, { name: "PD", icon: "rect" }], left: 551, top: 187, padding: 0,
      itemWidth: 12, itemHeight: 11, itemGap: 14, selectedMode: false,
      textStyle: { fontSize: 17, color: "#000", fontFamily: FONT, padding: [0, 0, 0, -2] },
    },
    grid, xAxis, yAxis, series, graphic,
  };
}

export default function App() {
  const ref = useRef<HTMLDivElement>(null);
  useEffect(() => {
    if (!ref.current) return;
    const chart = echarts.init(ref.current, null, { renderer: "svg" });
    chart.setOption(buildOption() as any);
    return () => chart.dispose();
  }, []);
  return <div ref={ref} style={{ position: "absolute", left: 0, top: 0, width: 677, height: 1356, background: "#fff" }} />;
}
